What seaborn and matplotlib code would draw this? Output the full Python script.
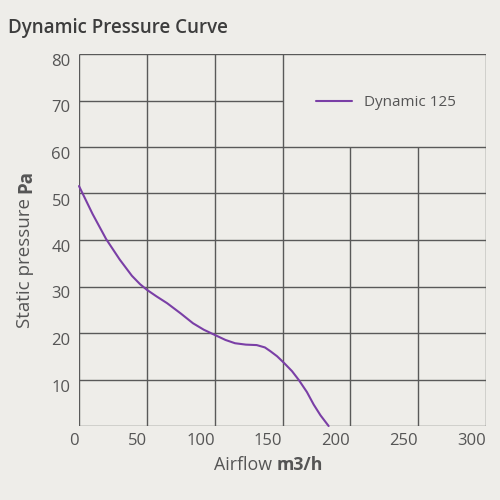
import matplotlib
matplotlib.use("Agg")
import matplotlib.pyplot as plt
import seaborn as sns
import pandas as pd

# Curve values
airflow = [0, 10, 20, 30, 39, 45, 50, 57, 65, 75, 84, 92, 100, 108, 115, 123, 131, 137, 141, 146, 151, 157, 162, 168, 173, 178, 184]
pressure = [51.6, 45.6, 40.2, 35.8, 32.3, 30.5, 29.3, 27.9, 26.4, 24.2, 22.1, 20.7, 19.6, 18.5, 17.8, 17.5, 17.4, 16.9, 16.1, 15.0, 13.6, 11.8, 9.9, 7.3, 4.6, 2.3, 0.0]
series_name = "Dynamic 125"

x_ticks = [0, 50, 100, 150, 200, 250, 300]
y_ticks = [10, 20, 30, 40, 50, 60, 70, 80]

bg = "#eeede9"
grid_c = "#595959"
text_c = "#555555"
line_c = "#7a3fa6"

sns.set_theme(style="white")
plt.rcParams["font.family"] = ["Open Sans", "DejaVu Sans"]

df = pd.DataFrame({"Airflow": airflow, "Pressure": pressure, "Series": series_name})

fig = plt.figure(figsize=(5, 5), dpi=100, facecolor=bg)
ax = fig.add_axes([0.158, 0.148, 0.814, 0.744])
ax.set_facecolor(bg)

# grid: legend box in upper right has no inner grid lines
for xv in x_ticks:
    top = 60 if xv in (200, 250) else 80
    ax.vlines(xv, 0, top, color=grid_c, lw=1.0, zorder=1)
for yv in [0] + y_ticks:
    right = 150 if yv == 70 else 300
    ax.hlines(yv, 0, right, color=grid_c, lw=1.0, zorder=1)

sns.lineplot(data=df, x="Airflow", y="Pressure", color=line_c, lw=1.5,
             ax=ax, label=series_name, zorder=3, clip_on=False)

ax.set_xlim(0, 300)
ax.set_ylim(0, 80)
for s in ax.spines.values():
    s.set_visible(False)

ax.set_xticks(x_ticks)
ax.set_xticklabels([str(v) for v in x_ticks], ha="right")
ax.set_yticks(y_ticks)
ax.set_yticklabels([str(v) for v in y_ticks], va="top")
ax.tick_params(axis="both", length=0, labelsize=12, labelcolor=text_c)
ax.tick_params(axis="x", pad=5)
ax.tick_params(axis="y", pad=6)
ax.set_xlabel("")
ax.set_ylabel("")

# axis titles with bold units
t1 = fig.text(0.428, 0.07, "Airflow ", fontsize=12.8, color=text_c, va="center", ha="left")
ax.annotate("m3/h", xy=(1, 0), xycoords=t1, va="bottom", ha="left",
            fontsize=12.8, color=text_c, fontweight="bold")
t2 = fig.text(0.05, 0.344, "Static pressure ", fontsize=13.5, color=text_c,
              rotation=90, va="bottom", ha="center")
ax.annotate("Pa", xy=(0, 1), xycoords=t2, va="bottom", ha="left",
            fontsize=13.5, color=text_c, fontweight="bold", rotation=90)

fig.text(0.016, 0.945, "Dynamic Pressure Curve", fontsize=13.5, color="#3d3d3d",
         fontweight="semibold", va="center", ha="left")

ax.legend(loc="center left", bbox_to_anchor=(175, 69.5), bbox_transform=ax.transData,
          frameon=False, fontsize=11, handlelength=2.3, handletextpad=0.8,
          borderpad=0, borderaxespad=0, labelcolor=text_c)

fig.savefig("out.png", dpi=100, facecolor=bg)
